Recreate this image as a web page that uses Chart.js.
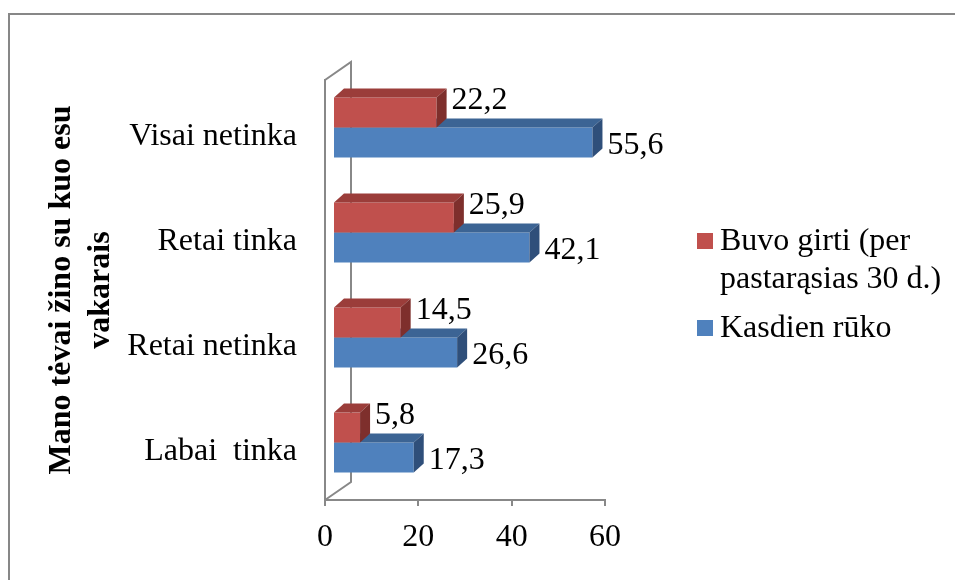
<!DOCTYPE html>
<html>
<head>
<meta charset="utf-8">
<script src="https://cdn.jsdelivr.net/npm/chart.js@4.4.1/dist/chart.umd.min.js"></script>
<style>
  html, body { margin: 0; padding: 0; background: #fff; overflow: hidden; }
  #wrap { position: relative; width: 955px; height: 580px; overflow: hidden; }
  #frame { position: absolute; left: 8px; top: 13px; width: 1000px; height: 700px; border: 2px solid #878787; box-sizing: border-box; }
  #chart { position: absolute; left: 0; top: 0; }
  .leg { position: absolute; left: 720px; font: 32px 'Liberation Serif', 'Times New Roman', serif; line-height: 38px; color: #000; white-space: nowrap; }
  .sw { position: absolute; left: 697px; width: 16px; height: 16px; }
</style>
</head>
<body>
<div id="wrap">
  <div id="frame"></div>
  <canvas id="chart" width="955" height="580"></canvas>
  <div id="legend"></div>
</div>
<script>
const categories = ['Visai netinka', 'Retai tinka', 'Retai netinka', 'Labai  tinka'];
const seriesNames = [['Buvo girti (per', 'pastarąsias 30 d.)'], ['Kasdien rūko']];
const drunkValues = [22.2, 25.9, 14.5, 5.8];
const smokeValues = [55.6, 42.1, 26.6, 17.3];
const xTicks = [0, 20, 40, 60];
const axisTitle = ['Mano tėvai žino su kuo esu', 'vakarais'];

const frontColors = ['#C0504D', '#4F81BD'];
const topColors = ['#9B3D3A', '#3C6494'];
const sideColors = ['#7E2F2C', '#2F4F7A'];
const labelDy = [-12, 3];

const serif = "'Liberation Serif', 'Times New Roman', serif";
const fmt = v => String(v).replace('.', ',');

// legend (html, right side)
const legend = document.getElementById('legend');
const legTops = [220, 307];
seriesNames.forEach((lines, i) => {
    const sw = document.createElement('div');
    sw.className = 'sw';
    sw.style.top = (legTops[i] + 13) + 'px';
    sw.style.background = frontColors[i];
    legend.appendChild(sw);
    const t = document.createElement('div');
    t.className = 'leg';
    t.style.top = legTops[i] + 'px';
    t.innerHTML = lines.join('<br>');
    legend.appendChild(t);
});

// fake 3D: wall, bar depth faces and value labels
const wallDX = 26, wallDY = 18;
const shift = [8, -5];
const faceX = 10, faceY = 9;

const threeD = {
    id: 'threeD',
    beforeDatasetsDraw(chart) {
        const { ctx, chartArea: a } = chart;
        ctx.save();
        ctx.strokeStyle = '#888';
        ctx.lineWidth = 2;
        ctx.beginPath();
        ctx.moveTo(a.left, a.top);
        ctx.lineTo(a.left + wallDX, a.top - wallDY);
        ctx.lineTo(a.left + wallDX, a.bottom - wallDY);
        ctx.lineTo(a.left, a.bottom);
        ctx.stroke();
        ctx.restore();
        ctx.save();
        ctx.translate(shift[0], shift[1]);
    },
    afterDatasetDraw(chart, args) {
        const ctx = chart.ctx;
        const i = args.index;
        const data = chart.data.datasets[i].data;
        args.meta.data.forEach((bar, j) => {
            const p = bar.getProps(['x', 'y', 'base', 'height'], true);
            const top = p.y - p.height / 2, bot = p.y + p.height / 2;
            ctx.fillStyle = topColors[i];
            ctx.beginPath();
            ctx.moveTo(p.base, top);
            ctx.lineTo(p.x, top);
            ctx.lineTo(p.x + faceX, top - faceY);
            ctx.lineTo(p.base + faceX, top - faceY);
            ctx.closePath();
            ctx.fill();
            ctx.fillStyle = sideColors[i];
            ctx.beginPath();
            ctx.moveTo(p.x, top);
            ctx.lineTo(p.x + faceX, top - faceY);
            ctx.lineTo(p.x + faceX, bot - faceY);
            ctx.lineTo(p.x, bot);
            ctx.closePath();
            ctx.fill();
            ctx.fillStyle = '#000';
            ctx.font = '32px ' + serif;
            ctx.textAlign = 'left';
            ctx.textBaseline = 'middle';
            ctx.fillText(fmt(data[j]), p.x + 15, p.y + labelDy[i]);
        });
    },
    afterDatasetsDraw(chart) {
        chart.ctx.restore();
    }
};

new Chart(document.getElementById('chart'), {
    type: 'bar',
    data: {
        labels: categories,
        datasets: [
            { label: seriesNames[0].join(' '), data: drunkValues, backgroundColor: frontColors[0] },
            { label: seriesNames[1].join(' '), data: smokeValues, backgroundColor: frontColors[1] }
        ]
    },
    options: {
        indexAxis: 'y',
        responsive: false,
        animation: false,
        events: [],
        barPercentage: 1,
        categoryPercentage: 0.57,
        layout: { padding: { left: 40, top: 80, right: 350, bottom: 0 } },
        scales: {
            x: {
                min: 0,
                max: 60,
                afterBuildTicks: s => { s.ticks = xTicks.map(v => ({ value: v })); },
                afterFit: s => { s.height = 80; },
                grid: { display: true, drawOnChartArea: false, drawTicks: true, tickLength: 6, color: '#888', lineWidth: 2 },
                border: { display: true, color: '#888', width: 2 },
                ticks: { color: '#000', padding: 12, font: { family: serif, size: 32 } }
            },
            y: {
                afterFit: s => { s.width = 285; },
                grid: { display: false, drawTicks: false },
                border: { display: true, color: '#888', width: 2 },
                ticks: { color: '#000', padding: 28, labelOffset: 4, font: { family: serif, size: 32 } },
                title: {
                    display: true,
                    text: axisTitle,
                    color: '#000',
                    padding: { top: 3, bottom: 0 },
                    font: { family: serif, size: 32, weight: 'bold' }
                }
            }
        },
        plugins: {
            legend: { display: false },
            tooltip: { enabled: false }
        }
    },
    plugins: [threeD]
});
</script>
</body>
</html>
